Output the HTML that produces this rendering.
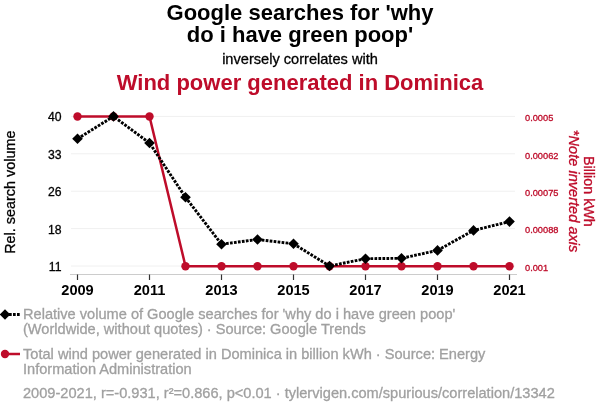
<!DOCTYPE html>
<html>
<head>
<meta charset="utf-8">
<style>
html,body{margin:0;padding:0;background:#fff;}
body{width:600px;height:414px;overflow:hidden;}
svg{display:block;will-change:transform;font-family:"Liberation Sans", sans-serif;}
</style>
</head>
<body>
<svg width="600" height="414" viewBox="0 0 600 414">
  <text x="300" y="20" text-anchor="middle" font-size="22" font-weight="bold" fill="#000">Google searches for 'why</text>
  <text x="300" y="41.8" text-anchor="middle" font-size="22" font-weight="bold" fill="#000">do i have green poop'</text>
  <text x="300" y="64" text-anchor="middle" font-size="14.6" fill="#000" stroke="#000" stroke-width="0.3">inversely correlates with</text>
  <text x="300" y="89.7" text-anchor="middle" font-size="22" font-weight="bold" fill="#be0c2a">Wind power generated in Dominica</text>
  <g stroke="#f0f0f0" stroke-width="1">
    <line x1="71" y1="116.4" x2="515" y2="116.4"/>
    <line x1="71" y1="153.8" x2="515" y2="153.8"/>
    <line x1="71" y1="191.2" x2="515" y2="191.2"/>
    <line x1="71" y1="228.6" x2="515" y2="228.6"/>
    <line x1="71" y1="266.0" x2="515" y2="266.0"/>
  </g>
  <line x1="70" y1="274.5" x2="517" y2="274.5" stroke="#cccccc" stroke-width="1"/>
  <g stroke="#333" stroke-width="1.2">
    <line x1="77.5" y1="274.5" x2="77.5" y2="280"/>
    <line x1="149.5" y1="274.5" x2="149.5" y2="280"/>
    <line x1="221.5" y1="274.5" x2="221.5" y2="280"/>
    <line x1="293.5" y1="274.5" x2="293.5" y2="280"/>
    <line x1="365.5" y1="274.5" x2="365.5" y2="280"/>
    <line x1="437.5" y1="274.5" x2="437.5" y2="280"/>
    <line x1="509.5" y1="274.5" x2="509.5" y2="280"/>
  </g>
  <g font-size="14.6" font-weight="bold" fill="#000" text-anchor="middle">
    <text x="77.5" y="294.8">2009</text>
    <text x="149.5" y="294.8">2011</text>
    <text x="221.5" y="294.8">2013</text>
    <text x="293.5" y="294.8">2015</text>
    <text x="365.5" y="294.8">2017</text>
    <text x="437.5" y="294.8">2019</text>
    <text x="509.5" y="294.8">2021</text>
  </g>
  <g font-size="12.2" fill="#000" text-anchor="end" stroke="#000" stroke-width="0.3">
    <text x="61.5" y="121.3">40</text>
    <text x="61.5" y="158.7">33</text>
    <text x="61.5" y="196.1">26</text>
    <text x="61.5" y="233.5">18</text>
    <text x="61.5" y="270.9">11</text>
  </g>
  <text transform="translate(15,192.2) rotate(-90)" text-anchor="middle" font-size="14.4" fill="#000" stroke="#000" stroke-width="0.3">Rel. search volume</text>
  <g font-size="9.25" fill="#be0c2a" text-anchor="start" stroke="#be0c2a" stroke-width="0.3">
    <text x="525" y="121.1">0.0005</text>
    <text x="525" y="158.5">0.00062</text>
    <text x="525" y="195.9">0.00075</text>
    <text x="525" y="233.3">0.00088</text>
    <text x="525" y="270.7">0.001</text>
  </g>
  <text transform="translate(569,191.1) rotate(90)" text-anchor="middle" font-size="14.6" font-style="italic" fill="#be0c2a" stroke="#be0c2a" stroke-width="0.3">*Note inverted axis</text>
  <text transform="translate(584,191.4) rotate(90)" text-anchor="middle" font-size="14.3" fill="#be0c2a" stroke="#be0c2a" stroke-width="0.3">Billion kWh</text>
  <polyline fill="none" stroke="#be0c2a" stroke-width="2.5" points="77.5,116.5 113.5,116.5 149.5,116.5 185.5,266.2 221.5,266.2 257.5,266.2 293.5,266.2 329.5,266.2 365.5,266.2 401.5,266.2 437.5,266.2 473.5,266.2 509.5,266.2"/>
  <g fill="#be0c2a">
    <circle cx="77.5" cy="116.5" r="4.2"/>
    <circle cx="113.5" cy="116.5" r="4.2"/>
    <circle cx="149.5" cy="116.5" r="4.2"/>
    <circle cx="185.5" cy="266.2" r="4.2"/>
    <circle cx="221.5" cy="266.2" r="4.2"/>
    <circle cx="257.5" cy="266.2" r="4.2"/>
    <circle cx="293.5" cy="266.2" r="4.2"/>
    <circle cx="329.5" cy="266.2" r="4.2"/>
    <circle cx="365.5" cy="266.2" r="4.2"/>
    <circle cx="401.5" cy="266.2" r="4.2"/>
    <circle cx="437.5" cy="266.2" r="4.2"/>
    <circle cx="473.5" cy="266.2" r="4.2"/>
    <circle cx="509.5" cy="266.2" r="4.2"/>
  </g>
  <polyline fill="none" stroke="#000" stroke-width="2.9" stroke-dasharray="2.7,1.3" points="77.5,138.8 113.5,116.4 149.5,143.0 185.5,197.3 221.5,244.2 257.5,239.5 293.5,243.8 329.5,266.0 365.5,258.7 401.5,258.3 437.5,250.4 473.5,230.4 509.5,221.6"/>
  <g fill="#000">
    <path d="M77.50,133.50 L82.80,138.80 L77.50,144.10 L72.20,138.80Z"/>
    <path d="M113.50,111.10 L118.80,116.40 L113.50,121.70 L108.20,116.40Z"/>
    <path d="M149.50,137.70 L154.80,143.00 L149.50,148.30 L144.20,143.00Z"/>
    <path d="M185.50,192.00 L190.80,197.30 L185.50,202.60 L180.20,197.30Z"/>
    <path d="M221.50,238.90 L226.80,244.20 L221.50,249.50 L216.20,244.20Z"/>
    <path d="M257.50,234.20 L262.80,239.50 L257.50,244.80 L252.20,239.50Z"/>
    <path d="M293.50,238.50 L298.80,243.80 L293.50,249.10 L288.20,243.80Z"/>
    <path d="M329.50,260.70 L334.80,266.00 L329.50,271.30 L324.20,266.00Z"/>
    <path d="M365.50,253.40 L370.80,258.70 L365.50,264.00 L360.20,258.70Z"/>
    <path d="M401.50,253.00 L406.80,258.30 L401.50,263.60 L396.20,258.30Z"/>
    <path d="M437.50,245.10 L442.80,250.40 L437.50,255.70 L432.20,250.40Z"/>
    <path d="M473.50,225.10 L478.80,230.40 L473.50,235.70 L468.20,230.40Z"/>
    <path d="M509.50,216.30 L514.80,221.60 L509.50,226.90 L504.20,221.60Z"/>
  </g>
  <line x1="5" y1="314.5" x2="20" y2="314.5" stroke="#000" stroke-width="2.9" stroke-dasharray="2.7,1.3"/>
  <g fill="#000"><path d="M5.00,309.20 L10.30,314.50 L5.00,319.80 L-0.30,314.50Z"/></g>
  <text x="23" y="318.6" font-size="14.6" fill="#a0a0a0" stroke="#a0a0a0" stroke-width="0.3">Relative volume of Google searches for 'why do i have green poop'</text>
  <text x="23" y="334.4" font-size="14.6" fill="#a0a0a0" stroke="#a0a0a0" stroke-width="0.3">(Worldwide, without quotes) · Source: Google Trends</text>
  <line x1="5" y1="354" x2="20" y2="354" stroke="#be0c2a" stroke-width="2.5"/>
  <circle cx="5" cy="354" r="4.2" fill="#be0c2a"/>
  <text x="23" y="358.6" font-size="14.6" fill="#a0a0a0" stroke="#a0a0a0" stroke-width="0.3">Total wind power generated in Dominica in billion kWh · Source: Energy</text>
  <text x="23" y="374.4" font-size="14.6" fill="#a0a0a0" stroke="#a0a0a0" stroke-width="0.3">Information Administration</text>
  <text x="23" y="397.6" font-size="14.6" fill="#a0a0a0" stroke="#a0a0a0" stroke-width="0.3">2009-2021, r=-0.931, r²=0.866, p&lt;0.01 · tylervigen.com/spurious/correlation/13342</text>
</svg>
</body>
</html>
